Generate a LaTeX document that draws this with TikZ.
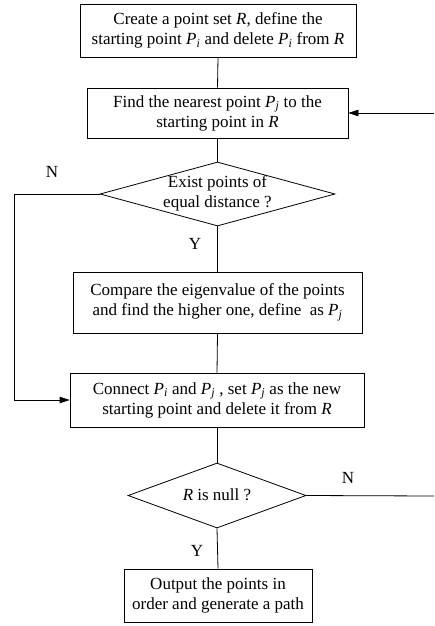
\documentclass[tikz,border=0pt]{standalone}
\usepackage{fontspec}
\setmainfont{Liberation Serif}
\usetikzlibrary{shapes.geometric,arrows.meta}
\newcommand\Pv[1]{\textit{P}\textsubscript{\textit{#1}}}
\newcommand\Rv{\textit{R}}
\begin{document}
\begin{tikzpicture}[x=1pt,y=-1pt,
  every node/.style={font=\fontsize{17}{20}\selectfont},
  procbox/.style={draw,line width=0.8pt,rectangle,align=center,inner sep=0pt},
  decide/.style={draw,line width=0.8pt,diamond,inner sep=0pt},
  conn/.style={line width=0.8pt},
  arr/.style={line width=0.8pt,-{Triangle[length=10pt,width=6.5pt]}},
  lbl/.style={inner sep=0pt}]
\useasboundingbox (0,0) rectangle (434,626);
\node[procbox,minimum width=276pt,minimum height=53pt] (b1) at (218,30.5)
  {Create a point set \Rv, define the\\starting point \Pv{i} and delete \Pv{i} from \Rv};
\node[procbox,minimum width=261pt,minimum height=50pt] (b2) at (217.5,113)
  {Find the nearest point \Pv{j} to the\\starting point in \Rv};
\node[decide,minimum width=235pt,minimum height=64pt] (d1) at (217.5,194) {};
\node[lbl,align=center] (d1t) at (217.5,193) {Exist points of\\equal distance ?};
\node[procbox,minimum width=289pt,minimum height=61pt] (b3) at (217.5,302.5)
  {Compare the eigenvalue of the points\\and find the higher one, define\ \ as \Pv{j}};
\node[procbox,minimum width=294pt,minimum height=54pt] (b4) at (217,400)
  {Connect \Pv{i} and \Pv{j} , set \Pv{j} as the new\\starting point and delete it from \Rv};
\node[decide,minimum width=178pt,minimum height=65pt] (d2) at (217,495.5) {};
\node[lbl] (d2t) at (217,495) {\Rv{} is null ?};
\node[procbox,minimum width=188pt,minimum height=53pt] (b5) at (218,595.5)
  {Output the points in\\order and generate a path};
\coordinate (cl1) at (14,194);
\coordinate (cl2) at (14,400);
\coordinate (cr1) at (434,113);
\coordinate (cr2) at (434,496);
\node[lbl] (n1) at (52,172) {N};
\node[lbl] (y1) at (195,244) {Y};
\node[lbl] (n2) at (348,478) {N};
\node[lbl] (y2) at (197,551) {Y};
\draw[conn] (b1.south) -- (b2.north);
\draw[conn] (b2.south) -- (d1.north);
\draw[conn] (d1.south) -- (b3.north);
\draw[conn] (b3.south) -- (b4.north);
\draw[conn] (b4.south) -- (d2.north);
\draw[conn] (d2.south) -- (b5.north);
\draw[arr] (d1.west) -- (cl1) -- (cl2) -- (b4.west);
\draw[conn] (d2.east) -- (cr2);
\draw[arr] (cr1) -- (b2.east);
\end{tikzpicture}
\end{document}
